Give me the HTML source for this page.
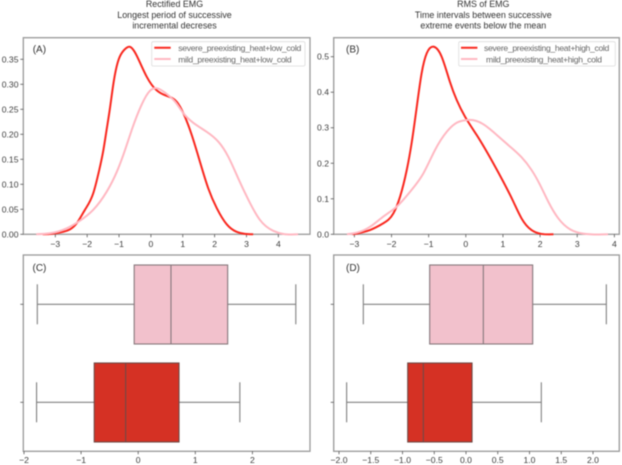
<!DOCTYPE html>
<html lang="en">
<head>
<meta charset="utf-8">
<title>EMG density and box plots</title>
<style>
html,body{margin:0;padding:0;background:#fff;width:622px;height:465px;overflow:hidden}
svg{display:block;font-family:"Liberation Sans",sans-serif;filter:blur(0.4px)}
</style>
</head>
<body>
<svg id="chart" width="622" height="465" viewBox="0 0 622 465" xmlns="http://www.w3.org/2000/svg"></svg>
<script>
// Panel A values
const aSevereX = [-3.4,-3.17,-2.75,-2.33,-2.07,-1.81,-1.62,-1.49,-1.39,-1.29,-1.18,-1.01,-0.85,-0.66,-0.39,-0.13,0.18,0.49,0.81,1.02,1.28,1.54,1.8,2.07,2.38,2.69,3.21];
const aSevereY = [0,0.0006,0.005,0.022,0.049,0.082,0.129,0.169,0.209,0.25,0.30,0.35,0.368,0.375,0.35,0.315,0.288,0.277,0.265,0.242,0.199,0.145,0.092,0.052,0.02,0.005,0];
const aMildX = [-3.6,-3.17,-2.64,-2.28,-1.81,-1.39,-1.07,-0.81,-0.6,-0.3,-0.03,0.2,0.49,0.76,1.02,1.33,1.75,2.12,2.43,2.74,3.06,3.42,3.84,4.16,4.62];
const aMildY = [0,0.002,0.012,0.025,0.049,0.085,0.125,0.169,0.209,0.258,0.287,0.292,0.281,0.265,0.242,0.223,0.205,0.185,0.155,0.112,0.069,0.029,0.007,0.0006,0];
const aXTicks = [-3,-2,-1,0,1,2,3,4];
const aYTicks = [0,0.05,0.10,0.15,0.20,0.25,0.30,0.35];
const aYLabels = ["0.00","0.05","0.10","0.15","0.20","0.25","0.30","0.35"];
// Panel B values
const bSevereX = [-3.05,-2.58,-2.22,-1.95,-1.77,-1.59,-1.46,-1.32,-1.19,-1.05,-0.86,-0.65,-0.43,-0.245,-0.02,0.29,0.74,1.01,1.28,1.5,1.77,2.04,2.36];
const bSevereY = [0,0.012,0.031,0.059,0.106,0.181,0.256,0.359,0.453,0.51,0.528,0.5,0.43,0.378,0.331,0.28,0.2,0.148,0.092,0.045,0.012,0.001,0];
const bMildX = [-3.2,-2.94,-2.58,-2.22,-1.86,-1.46,-1.14,-0.83,-0.51,-0.245,-0.02,0.11,0.47,0.83,1.19,1.5,1.77,2,2.22,2.49,2.81,3.16,3.83];
const bMildY = [0,0.0045,0.021,0.05,0.078,0.125,0.172,0.237,0.289,0.314,0.321,0.322,0.31,0.28,0.247,0.217,0.181,0.139,0.092,0.045,0.014,0.002,0];
const bXTicks = [-3,-2,-1,0,1,2,3,4];
const bYTicks = [0,0.1,0.2,0.3,0.4,0.5];
const bYLabels = ["0.0","0.1","0.2","0.3","0.4","0.5"];
// Panel C values: low whisker, q1, median, q3, high whisker
const cMild = [-1.767,-0.07,0.574,1.567,2.76];
const cSevere = [-1.78,-0.77,-0.22,0.715,1.78];
const cXTicks = [-2,-1,0,1,2];
const cXLabels = ["−2","−1","0","1","2"];
// Panel D values: low whisker, q1, median, q3, high whisker
const dMild = [-1.617,-0.572,0.273,1.05,2.21];
const dSevere = [-1.88,-0.918,-0.672,0.095,1.186];
const dXTicks = [-2,-1.5,-1,-0.5,0,0.5,1,1.5,2];
const dXLabels = ["−2.0","−1.5","−1.0","−0.5","0.0","0.5","1.0","1.5","2.0"];

const svg = document.getElementById('chart');
const NS = 'http://www.w3.org/2000/svg';
const SPINE = '#999', TICK = '#555', TXT = '#3c3c3c';
const RED = '#f9281f', PINK = '#ffb8c2';

function make(tag, attrs, name, text){
  const el = document.createElementNS(NS, tag);
  for (const k in attrs) el.setAttribute(k, attrs[k]);
  
  
  if (text !== undefined) el.textContent = text;
  svg.appendChild(el);
  return el;
}
function label(x, y, s, size, anchor, name, fill){
  return make('text', {x:x, y:y, 'font-size':size, 'text-anchor':anchor, 'dominant-baseline':'central', fill:fill||TXT}, name, s);
}
function fmt(v){ return String(v).replace('-', '−'); }

// Natural cubic spline through the read points, emitted as Bezier segments.
function curvePath(xs, ys, fx, fy){
  const n = xs.length, px = xs.map(fx), py = ys.map(fy);
  const h = [], c = new Array(n).fill(0), d = new Array(n).fill(0), M = new Array(n).fill(0);
  for (let i = 0; i < n-1; i++) h.push(px[i+1]-px[i]);
  for (let i = 1; i < n-1; i++){
    const r = 6*((py[i+1]-py[i])/h[i] - (py[i]-py[i-1])/h[i-1]);
    const den = 2*(h[i-1]+h[i]) - h[i-1]*c[i-1];
    c[i] = h[i]/den;
    d[i] = (r - h[i-1]*d[i-1])/den;
  }
  for (let i = n-2; i > 0; i--) M[i] = d[i] - c[i]*M[i+1];
  let p = 'M' + px[0].toFixed(2) + ' ' + py[0].toFixed(2);
  for (let i = 0; i < n-1; i++){
    const s = (py[i+1]-py[i])/h[i];
    const m0 = s - h[i]*(2*M[i]+M[i+1])/6;
    const m1 = s + h[i]*(M[i]+2*M[i+1])/6;
    const t = h[i]/3;
    p += ' C' + (px[i]+t).toFixed(2) + ' ' + (py[i]+m0*t).toFixed(2) + ' ' +
         (px[i+1]-t).toFixed(2) + ' ' + (py[i+1]-m1*t).toFixed(2) + ' ' +
         px[i+1].toFixed(2) + ' ' + py[i+1].toFixed(2);
  }
  return p;
}

function frame(f, id){
  make('rect', {x:f.l, y:f.t, width:f.r-f.l, height:f.b-f.t, fill:'none', stroke:SPINE, 'stroke-width':1.3}, id + '-plot-frame');
}
function xAxis(f, id, fx, ticks, labels, labelY){
  ticks.forEach((t, i) => {
    const x = fx(t);
    make('line', {x1:x, x2:x, y1:f.b, y2:f.b+3, stroke:TICK, 'stroke-width':0.8}, id + '-x-tick');
    label(x, labelY, labels[i], 8.6, 'middle', id + '-x-tick-label');
  });
}

function kdePanel(p){
  const f = p.frame;
  const fx = v => p.x0 + v*p.xs;
  const fy = v => f.b - v*p.ys;
  frame(f, p.id);
  xAxis(f, p.id, fx, p.xTicks, p.xTicks.map(fmt), 244);
  p.yTicks.forEach((t, i) => {
    const y = fy(t);
    make('line', {x1:f.l-3, x2:f.l, y1:y, y2:y, stroke:TICK, 'stroke-width':0.8}, p.id + '-y-tick');
    label(p.yLabelX, y, p.yLabels[i], 8.6, 'end', p.id + '-y-tick-label');
  });
  make('path', {d:curvePath(p.severeX, p.severeY, fx, fy), fill:'none', stroke:RED, 'stroke-width':2, 'stroke-linejoin':'round'}, p.id + '-severe-density-line');
  make('path', {d:curvePath(p.mildX, p.mildY, fx, fy), fill:'none', stroke:PINK, 'stroke-width':2, 'stroke-linejoin':'round'}, p.id + '-mild-density-line');
  const L = p.legend;
  make('rect', {x:L.x, y:41.7, width:L.w, height:24.3, rx:1.5, fill:'#fff', 'fill-opacity':0.85, stroke:'#dcdcdc', 'stroke-width':0.8}, p.id + '-legend-box');
  make('line', {x1:L.lx, x2:L.lx+16.4, y1:47.7, y2:47.7, stroke:RED, 'stroke-width':2}, p.id + '-legend-severe-swatch');
  make('line', {x1:L.lx, x2:L.lx+16.4, y1:59, y2:59, stroke:PINK, 'stroke-width':2}, p.id + '-legend-mild-swatch');
  const a = label(L.t1, 48, p.names[0], 8.6, 'start', p.id + '-legend-severe-label', '#666');
  a.setAttribute('textLength', L.w1);
  const b = label(L.t2, 59.5, p.names[1], 8.6, 'start', p.id + '-legend-mild-label', '#666');
  b.setAttribute('textLength', L.w2);
  label(p.tagX, 50, p.tag, 10, 'start', p.id + '-panel-label', '#333');
}

function boxRow(id, name, fx, vals, top, bottom, mid, fill, edge){
  const capT = mid-20, capB = mid+20;
  make('line', {x1:fx(vals[0]), x2:fx(vals[1]), y1:mid, y2:mid, stroke:'#808080', 'stroke-width':1.1}, id + '-' + name + '-low-whisker');
  make('line', {x1:fx(vals[3]), x2:fx(vals[4]), y1:mid, y2:mid, stroke:'#808080', 'stroke-width':1.1}, id + '-' + name + '-high-whisker');
  make('line', {x1:fx(vals[0]), x2:fx(vals[0]), y1:capT, y2:capB, stroke:'#808080', 'stroke-width':1.1}, id + '-' + name + '-low-cap');
  make('line', {x1:fx(vals[4]), x2:fx(vals[4]), y1:capT, y2:capB, stroke:'#808080', 'stroke-width':1.1}, id + '-' + name + '-high-cap');
  make('rect', {x:fx(vals[1]), y:top, width:fx(vals[3])-fx(vals[1]), height:bottom-top, fill:fill, stroke:edge, 'stroke-width':1.1}, id + '-' + name + '-box');
  make('line', {x1:fx(vals[2]), x2:fx(vals[2]), y1:top, y2:bottom, stroke:edge, 'stroke-width':1.1}, id + '-' + name + '-median');
}

function boxPanel(p){
  const f = p.frame;
  const fx = v => p.x0 + v*p.xs;
  frame(f, p.id);
  xAxis(f, p.id, fx, p.xTicks, p.xLabels, 460);
  [304.3, 402.3].forEach(y => {
    make('line', {x1:f.l-3, x2:f.l, y1:y, y2:y, stroke:TICK, 'stroke-width':0.8}, p.id + '-y-tick');
  });
  boxRow(p.id, 'mild', fx, p.mild, 265, 344, 304.3, '#f2c1cc', '#86787c');
  boxRow(p.id, 'severe', fx, p.severe, 363, 442, 402.3, '#d53124', '#704a46');
  label(p.tagX, 268.7, p.tag, 10, 'start', p.id + '-panel-label', '#333');
}

function title(cx, lines, id){
  [4, 15, 25.5].forEach((y, i) => {
    label(cx, y, lines[i], 8.9, 'middle', id + '-title-line-' + (i+1), '#333');
  });
}

title(174.5, ['Rectified EMG','Longest period of successive','incremental decreses'], 'panel-a');
title(483.3, ['RMS of EMG','Time intervals between successive','extreme events below the mean'], 'panel-b');

kdePanel({id:'panel-a', tag:'(A)', tagX:32.7, frame:{l:23.3,r:310,t:37.7,b:234.3}, x0:150.9, xs:31.86, ys:500,
  severeX:aSevereX, severeY:aSevereY, mildX:aMildX, mildY:aMildY, xTicks:aXTicks, yTicks:aYTicks, yLabels:aYLabels, yLabelX:18.5,
  names:['severe_preexisting_heat+low_cold','mild_preexisting_heat+low_cold'],
  legend:{x:151.7, w:153.3, lx:154.3, t1:178.3, w1:123, t2:178.3, w2:113.4}});

kdePanel({id:'panel-b', tag:'(B)', tagX:346, frame:{l:333.7,r:619.3,t:37.7,b:234.3}, x0:465.8, xs:37.14, ys:355.2,
  severeX:bSevereX, severeY:bSevereY, mildX:bMildX, mildY:bMildY, xTicks:bXTicks, yTicks:bYTicks, yLabels:bYLabels, yLabelX:329,
  names:['severe_preexisting_heat+high_cold','mild_preexisting_heat+high_cold'],
  legend:{x:458.7, w:156.6, lx:461, t1:484, w1:125.3, t2:486, w2:116}});

boxPanel({id:'panel-c', tag:'(C)', tagX:32.5, frame:{l:23.3,r:310,t:255,b:451.3}, x0:138.2, xs:57.1,
  mild:cMild, severe:cSevere, xTicks:cXTicks, xLabels:cXLabels});

boxPanel({id:'panel-d', tag:'(D)', tagX:346, frame:{l:333.7,r:619.3,t:255,b:451.3}, x0:466, xs:63.5,
  mild:dMild, severe:dSevere, xTicks:dXTicks, xLabels:dXLabels});
</script>
</body>
</html>
